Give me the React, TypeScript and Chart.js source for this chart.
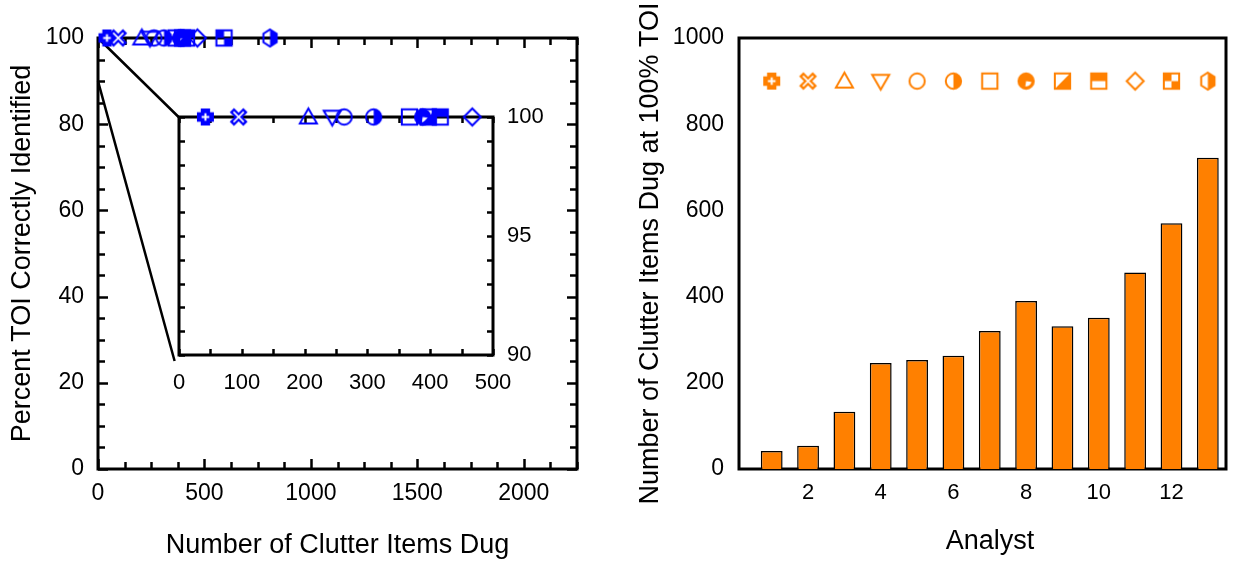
import React, { useEffect, useRef } from "react";
import { Chart, registerables } from "chart.js";

Chart.register(...registerables);

const FONT = "'Liberation Sans', Arial, sans-serif";
const BLUE = "#0000ff";
const ORANGE = "#ff8000";

// ---------------- data ----------------
const analysts = [1, 2, 3, 4, 5, 6, 7, 8, 9, 10, 11, 12, 13];
const markerTypes = [
  "plusFill", "xHollow", "triUp", "triDown", "circle", "halfCircle", "square",
  "pie", "squareDiag", "squareTop", "diamond", "checker", "hexHalf",
];
// clutter items dug when 100% of TOI were identified (left panel)
const clutterAt100 = [42, 95, 206, 244, 263, 310, 367, 388, 397, 416, 467, 592, 808];
const percentTOI = [100, 100, 100, 100, 100, 100, 100, 100, 100, 100, 100, 100, 100];
// bar chart values (right panel)
const clutterDugBars = [42, 54, 133, 246, 253, 263, 320, 390, 331, 351, 456, 570, 722];
const markerRowLevel = [900, 900, 900, 900, 900, 900, 900, 900, 900, 900, 900, 900, 900];

const mainXTicks = [0, 500, 1000, 1500, 2000];
const mainYTicks = [0, 20, 40, 60, 80, 100];
const insetXTicks = [0, 100, 200, 300, 400, 500];
const insetYTicks = [90, 95, 100];
const barXTicks = [2, 4, 6, 8, 10, 12];
const barYTicks = [0, 200, 400, 600, 800, 1000];

const mainXRange = [0, 2250];
const mainYRange = [0, 100];
const insetXRange = [0, 500];
const insetYRange = [90, 100];
const barXRange = [0.1, 13.5];
const barYRange = [0, 1000];

const leftXTitle = "Number of Clutter Items Dug";
const leftYTitle = "Percent TOI Correctly Identified";
const rightXTitle = "Analyst";
const rightYTitle = "Number of Clutter Items Dug at 100% TOI";

// ---------------- layout ----------------
const MAIN = { left: 0, top: 0, width: 600, height: 562 };
const INSET = { left: 154.6, top: 89, width: 405.4, height: 316, padLeft: 24, padTop: 28, axisRight: 67, axisBottom: 50 };
const BAR = { left: 620, top: 0, width: 618, height: 562 };
const RIGHT_TITLES = { yTitleX: 31, xTitleX: 370, xTitleY: 542 };

// ---------------- markers ----------------
function makeMarker(type: string, color: string, r: number) {
  const s = Math.ceil(2 * r + 8);
  const c = document.createElement("canvas");
  c.width = s;
  c.height = s;
  const g = c.getContext("2d")!;
  g.translate(s / 2, s / 2);
  g.strokeStyle = color;
  g.fillStyle = color;
  g.lineWidth = 2;
  g.lineJoin = "miter";
  const W = "#ffffff";
  const q = r * 0.9;
  const hex = () => {
    g.beginPath();
    g.moveTo(0, -r);
    g.lineTo(q * 0.87, -r * 0.5);
    g.lineTo(q * 0.87, r * 0.5);
    g.lineTo(0, r);
    g.lineTo(-q * 0.87, r * 0.5);
    g.lineTo(-q * 0.87, -r * 0.5);
    g.closePath();
  };
  switch (type) {
    case "plusFill": {
      const a = r * 0.55;
      g.beginPath();
      g.moveTo(-a, -r); g.lineTo(a, -r); g.lineTo(a, -a); g.lineTo(r, -a);
      g.lineTo(r, a); g.lineTo(a, a); g.lineTo(a, r); g.lineTo(-a, r);
      g.lineTo(-a, a); g.lineTo(-r, a); g.lineTo(-r, -a); g.lineTo(-a, -a);
      g.closePath();
      g.fill();
      g.strokeStyle = W;
      g.lineWidth = 2;
      g.beginPath();
      g.moveTo(-r * 0.45, 0); g.lineTo(r * 0.45, 0);
      g.moveTo(0, -r * 0.45); g.lineTo(0, r * 0.45);
      g.stroke();
      break;
    }
    case "xHollow": {
      const e = r * 0.8;
      g.lineWidth = 6;
      g.beginPath();
      g.moveTo(-e, -e); g.lineTo(e, e); g.moveTo(e, -e); g.lineTo(-e, e);
      g.stroke();
      g.strokeStyle = W;
      g.lineWidth = 1.6;
      const f = e * 0.75;
      g.beginPath();
      g.moveTo(-f, -f); g.lineTo(f, f); g.moveTo(f, -f); g.lineTo(-f, f);
      g.stroke();
      break;
    }
    case "triUp":
      g.beginPath();
      g.moveTo(0, -r); g.lineTo(r, r * 0.75); g.lineTo(-r, r * 0.75); g.closePath();
      g.stroke();
      break;
    case "triDown":
      g.beginPath();
      g.moveTo(0, r); g.lineTo(r, -r * 0.75); g.lineTo(-r, -r * 0.75); g.closePath();
      g.stroke();
      break;
    case "circle":
      g.beginPath();
      g.arc(0, 0, q, 0, Math.PI * 2);
      g.stroke();
      break;
    case "halfCircle":
      g.beginPath();
      g.arc(0, 0, q, -Math.PI / 2, Math.PI / 2);
      g.closePath();
      g.fill();
      g.beginPath();
      g.arc(0, 0, q, 0, Math.PI * 2);
      g.stroke();
      break;
    case "square":
      g.strokeRect(-q, -q, 2 * q, 2 * q);
      break;
    case "pie":
      g.beginPath();
      g.arc(0, 0, q, 0, Math.PI * 2);
      g.fill();
      g.fillStyle = W;
      g.beginPath();
      g.moveTo(0, 0);
      g.arc(0, 0, q * 0.7, Math.PI * 0.05, Math.PI * 0.55);
      g.closePath();
      g.fill();
      g.beginPath();
      g.arc(0, 0, q, 0, Math.PI * 2);
      g.stroke();
      break;
    case "squareDiag":
      g.beginPath();
      g.moveTo(q, -q); g.lineTo(q, q); g.lineTo(-q, q); g.closePath();
      g.fill();
      g.strokeRect(-q, -q, 2 * q, 2 * q);
      break;
    case "squareTop":
      g.fillRect(-q, -q, 2 * q, q);
      g.strokeRect(-q, -q, 2 * q, 2 * q);
      break;
    case "diamond":
      g.beginPath();
      g.moveTo(0, -r); g.lineTo(r, 0); g.lineTo(0, r); g.lineTo(-r, 0); g.closePath();
      g.stroke();
      break;
    case "checker":
      g.fillRect(-q, -q, q, q);
      g.fillRect(0, 0, q, q);
      g.strokeRect(-q, -q, 2 * q, 2 * q);
      break;
    case "hexHalf":
      g.beginPath();
      g.moveTo(0, -r);
      g.lineTo(q * 0.87, -r * 0.5);
      g.lineTo(q * 0.87, r * 0.5);
      g.lineTo(0, r);
      g.closePath();
      g.fill();
      hex();
      g.stroke();
      break;
  }
  return c;
}

// ---------------- plugins ----------------
type FrameSpec = {
  xMinor?: number; xMajor?: number; yMinor?: number; yMajor?: number;
  minorLen: number; majorLen: number; frameWidth: number; tickWidth: number;
};

function makeFramePlugin(spec: FrameSpec) {
  return {
    id: "frame",
    beforeDatasetsDraw(chart: any) {
      const { ctx, chartArea: a } = chart;
      const xs = chart.scales.x;
      const ys = chart.scales.y;
      const isMajor = (v: number, m?: number) =>
        m ? Math.abs(v / m - Math.round(v / m)) < 1e-6 : false;
      ctx.save();
      ctx.strokeStyle = "#000";
      ctx.lineWidth = spec.tickWidth;
      ctx.beginPath();
      if (spec.xMinor) {
        const start = Math.ceil(xs.min / spec.xMinor - 1e-9);
        for (let i = start; i * spec.xMinor <= xs.max + 1e-9; i++) {
          const v = i * spec.xMinor;
          const len = isMajor(v, spec.xMajor) ? spec.majorLen : spec.minorLen;
          const px = Math.round(xs.getPixelForValue(v)) + 0.5;
          ctx.moveTo(px, a.bottom); ctx.lineTo(px, a.bottom - len);
          ctx.moveTo(px, a.top); ctx.lineTo(px, a.top + len);
        }
      }
      if (spec.yMinor) {
        const start = Math.ceil(ys.min / spec.yMinor - 1e-9);
        for (let i = start; i * spec.yMinor <= ys.max + 1e-9; i++) {
          const v = i * spec.yMinor;
          const len = isMajor(v, spec.yMajor) ? spec.majorLen : spec.minorLen;
          const py = Math.round(ys.getPixelForValue(v)) + 0.5;
          ctx.moveTo(a.left, py); ctx.lineTo(a.left + len, py);
          ctx.moveTo(a.right, py); ctx.lineTo(a.right - len, py);
        }
      }
      ctx.stroke();
      ctx.lineWidth = spec.frameWidth;
      ctx.strokeRect(a.left, a.top, a.right - a.left, a.bottom - a.top);
      ctx.restore();
    },
  };
}

const zoomLinesPlugin = {
  id: "zoomLines",
  beforeDatasetsDraw(chart: any) {
    const { ctx } = chart;
    const xs = chart.scales.x;
    const ys = chart.scales.y;
    const insetLeft = INSET.left + INSET.padLeft - MAIN.left;
    const insetTop = INSET.top + INSET.padTop - MAIN.top;
    const insetBottom = INSET.top + INSET.height - INSET.axisBottom - MAIN.top;
    ctx.save();
    ctx.strokeStyle = "#000";
    ctx.lineWidth = 2.5;
    ctx.beginPath();
    ctx.moveTo(xs.getPixelForValue(insetXRange[0]), ys.getPixelForValue(insetYRange[1]));
    ctx.lineTo(insetLeft, insetTop);
    ctx.moveTo(xs.getPixelForValue(insetXRange[0]), ys.getPixelForValue(insetYRange[0]));
    ctx.lineTo(insetLeft - 4, insetBottom + 6);
    ctx.stroke();
    ctx.restore();
  },
};

const rightTitlesPlugin = {
  id: "rightTitles",
  afterDraw(chart: any) {
    const { ctx, chartArea: a } = chart;
    ctx.save();
    ctx.font = `27px ${FONT}`;
    ctx.fillStyle = "#000";
    ctx.textAlign = "center";
    ctx.textBaseline = "middle";
    ctx.fillText(rightXTitle, RIGHT_TITLES.xTitleX, RIGHT_TITLES.xTitleY);
    ctx.translate(RIGHT_TITLES.yTitleX, (a.top + a.bottom) / 2);
    ctx.rotate(-Math.PI / 2);
    ctx.fillText(rightYTitle, 0, 0);
    ctx.restore();
  },
};

const setTicks = (vals: number[]) => (s: any) => {
  s.ticks = vals.map((v) => ({ value: v }));
};
const plain = (v: any) => String(v);

export default function App() {
  const mainRef = useRef<HTMLCanvasElement>(null);
  const insetRef = useRef<HTMLCanvasElement>(null);
  const barRef = useRef<HTMLCanvasElement>(null);

  useEffect(() => {
    Chart.defaults.font.family = FONT;
    Chart.defaults.color = "#000";
    const blueMarkers = markerTypes.map((t) => makeMarker(t, BLUE, 8.5));
    const orangeMarkers = markerTypes.map((t) => makeMarker(t, ORANGE, 8.5));
    const charts: Chart[] = [];

    const commonPlugins = {
      legend: { display: false },
      tooltip: { enabled: false },
    };

    // ---------- left main ----------
    charts.push(
      new Chart(mainRef.current!, {
        type: "scatter",
        data: {
          datasets: [
            {
              data: analysts.map((_, i) => ({ x: clutterAt100[i], y: percentTOI[i] })),
              pointStyle: blueMarkers as any,
              pointRadius: 7,
              clip: false as any,
            },
          ],
        },
        options: {
          responsive: false,
          animation: false,
          events: [],
          layout: { padding: { left: 0, right: 23, top: 38, bottom: 0 } },
          plugins: commonPlugins,
          scales: {
            x: {
              type: "linear",
              min: mainXRange[0],
              max: mainXRange[1],
              grid: { display: false, drawTicks: false },
              border: { display: false },
              ticks: { font: { size: 23 }, padding: 11, maxRotation: 0, autoSkip: false, callback: plain },
              afterBuildTicks: setTicks(mainXTicks),
              afterFit: (s: any) => { s.height = 93; },
              title: { display: true, text: leftXTitle, font: { size: 27 }, padding: { top: 0, bottom: 0 } },
            },
            y: {
              type: "linear",
              min: mainYRange[0],
              max: mainYRange[1],
              grid: { display: false, drawTicks: false },
              border: { display: false },
              ticks: { font: { size: 23 }, padding: 14, autoSkip: false, callback: plain },
              afterBuildTicks: setTicks(mainYTicks),
              afterFit: (s: any) => { s.width = 98; },
              title: { display: true, text: leftYTitle, font: { size: 27 }, padding: { top: 6, bottom: 0 } },
            },
          },
        },
        plugins: [
          makeFramePlugin({ xMinor: 125, xMajor: 500, yMinor: 5, yMajor: 20, minorLen: 7, majorLen: 10, frameWidth: 3, tickWidth: 2.5 }),
          zoomLinesPlugin,
        ],
      } as any)
    );

    // ---------- inset ----------
    charts.push(
      new Chart(insetRef.current!, {
        type: "scatter",
        data: {
          datasets: [
            {
              data: analysts.map((_, i) => ({ x: clutterAt100[i], y: percentTOI[i] })),
              pointStyle: blueMarkers as any,
              pointRadius: 7,
              clip: false as any,
            },
          ],
        },
        options: {
          responsive: false,
          animation: false,
          events: [],
          layout: { padding: { left: INSET.padLeft, right: 0, top: INSET.padTop, bottom: 0 } },
          plugins: commonPlugins,
          scales: {
            x: {
              type: "linear",
              min: insetXRange[0],
              max: insetXRange[1],
              grid: { display: false, drawTicks: false },
              border: { display: false },
              ticks: { font: { size: 22 }, padding: 15, maxRotation: 0, autoSkip: false, callback: plain },
              afterBuildTicks: setTicks(insetXTicks),
              afterFit: (s: any) => { s.height = INSET.axisBottom; },
            },
            y: {
              type: "linear",
              position: "right",
              min: insetYRange[0],
              max: insetYRange[1],
              grid: { display: false, drawTicks: false },
              border: { display: false },
              ticks: { font: { size: 22 }, padding: 14, autoSkip: false, callback: plain },
              afterBuildTicks: setTicks(insetYTicks),
              afterFit: (s: any) => { s.width = INSET.axisRight; },
            },
          },
        },
        plugins: [
          makeFramePlugin({ xMinor: 50, yMinor: 1, minorLen: 6, majorLen: 6, frameWidth: 3, tickWidth: 2.5 }),
        ],
      } as any)
    );

    // ---------- right bar chart ----------
    charts.push(
      new Chart(barRef.current!, {
        type: "bar",
        data: {
          datasets: [
            {
              type: "bar",
              data: analysts.map((a, i) => ({ x: a, y: clutterDugBars[i] })),
              backgroundColor: ORANGE,
              borderColor: "#000",
              borderWidth: 1.5,
              categoryPercentage: 0.6,
              barPercentage: 1,
            },
            {
              type: "scatter",
              data: analysts.map((a, i) => ({ x: a, y: markerRowLevel[i] })),
              pointStyle: orangeMarkers as any,
              pointRadius: 8,
              clip: false as any,
            },
          ],
        },
        options: {
          responsive: false,
          animation: false,
          events: [],
          layout: { padding: { left: 0, right: 12, top: 38, bottom: 0 } },
          plugins: commonPlugins,
          scales: {
            x: {
              type: "linear",
              offset: false,
              min: barXRange[0],
              max: barXRange[1],
              grid: { display: false, drawTicks: false, offset: false },
              border: { display: false },
              ticks: { font: { size: 22 }, padding: 11, maxRotation: 0, autoSkip: false, callback: plain },
              afterBuildTicks: setTicks(barXTicks),
              afterFit: (s: any) => { s.height = 93; },
            },
            y: {
              type: "linear",
              min: barYRange[0],
              max: barYRange[1],
              grid: { display: false, drawTicks: false },
              border: { display: false },
              ticks: { font: { size: 23 }, padding: 15, autoSkip: false, callback: plain },
              afterBuildTicks: setTicks(barYTicks),
              afterFit: (s: any) => { s.width = 119; },
            },
          },
        },
        plugins: [
          makeFramePlugin({ minorLen: 6, majorLen: 6, frameWidth: 3, tickWidth: 2.5 }),
          rightTitlesPlugin,
        ],
      } as any)
    );

    return () => charts.forEach((c) => c.destroy());
  }, []);

  const abs = (b: { left: number; top: number; width: number; height: number }) => ({
    position: "absolute" as const,
    left: b.left,
    top: b.top,
    width: b.width,
    height: b.height,
  });

  return (
    <div style={{ position: "absolute", left: 0, top: 0, width: 1238, height: 562, background: "#fff", overflow: "hidden" }}>
      <canvas ref={mainRef} width={MAIN.width} height={MAIN.height} style={abs(MAIN)} />
      <canvas ref={insetRef} width={INSET.width} height={INSET.height} style={abs(INSET)} />
      <canvas ref={barRef} width={BAR.width} height={BAR.height} style={abs(BAR)} />
    </div>
  );
}
